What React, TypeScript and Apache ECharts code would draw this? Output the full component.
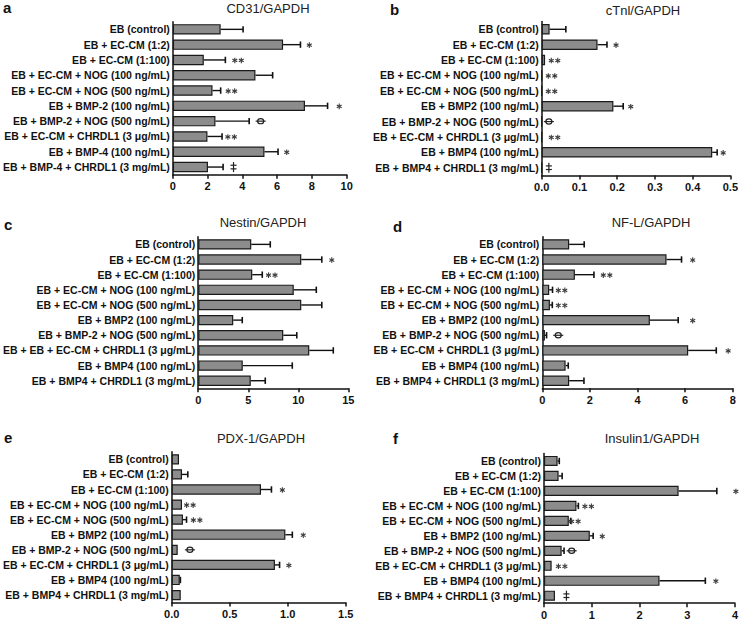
import React, { useEffect, useRef } from "react";
import * as echarts from "echarts";

// ---------- Categories ----------
const LABELS_A = [
  "EB (control)",
  "EB + EC-CM (1:2)",
  "EB + EC-CM (1:100)",
  "EB + EC-CM + NOG (100 ng/mL)",
  "EB + EC-CM + NOG (500 ng/mL)",
  "EB + BMP-2 (100 ng/mL)",
  "EB + BMP-2 + NOG (500 ng/mL)",
  "EB + EC-CM + CHRDL1 (3 μg/mL)",
  "EB + BMP-4 (100 ng/mL)",
  "EB + BMP-4 + CHRDL1 (3 mg/mL)",
];
const LABELS_STD = [
  "EB (control)",
  "EB + EC-CM (1:2)",
  "EB + EC-CM (1:100)",
  "EB + EC-CM + NOG (100 ng/mL)",
  "EB + EC-CM + NOG (500 ng/mL)",
  "EB + BMP2 (100 ng/mL)",
  "EB + BMP-2 + NOG (500 ng/mL)",
  "EB + EC-CM + CHRDL1 (3 μg/mL)",
  "EB + BMP4 (100 ng/mL)",
  "EB + BMP4 + CHRDL1 (3 mg/mL)",
];
const LABELS_C = [
  "EB (control)",
  "EB + EC-CM (1:2)",
  "EB + EC-CM (1:100)",
  "EB + EC-CM + NOG (100 ng/mL)",
  "EB + EC-CM + NOG (500 ng/mL)",
  "EB + BMP2 (100 ng/mL)",
  "EB + BMP-2 + NOG (500 ng/mL)",
  "EB + EB + EC-CM + CHRDL1 (3 μg/mL)",
  "EB + BMP4 (100 ng/mL)",
  "EB + BMP4 + CHRDL1 (3 mg/mL)",
];

// ---------- Values (mean, upper error end, significance marks) ----------
const CD31_MEAN = [2.75, 6.34, 1.78, 4.75, 2.28, 7.6, 2.45, 1.99, 5.27, 2.02];
const CD31_ERR = [4.04, 7.34, 3.02, 5.74, 2.75, 8.9, 4.39, 2.83, 6.05, 2.89];
const CD31_MARKS = ["", "*", "**", "", "**", "*", "θ", "**", "*", "‡"];
const CD31_MARK_X = [0, 7.85, 3.75, 0, 3.37, 9.57, 5.05, 3.35, 6.55, 3.49];

const CTNI_MEAN = [0.021, 0.148, 0.009, 0, 0, 0.19, 0, 0, 0.452, 0];
const CTNI_ERR = [0.064, 0.173, 0.009, 0, 0, 0.216, 0, 0, 0.465, 0];
const CTNI_MARKS = ["", "*", "**", "**", "**", "*", "θ", "**", "*", "‡"];
const CTNI_MARK_X = [0, 0.197, 0.034, 0.026, 0.026, 0.236, 0.019, 0.034, 0.481, 0.019];

const NESTIN_MEAN = [5.3, 10.3, 5.4, 9.55, 10.3, 3.5, 8.5, 11.1, 4.45, 5.25];
const NESTIN_ERR = [7.2, 12.35, 6.4, 11.8, 12.35, 4.4, 9.85, 13.5, 9.4, 6.7];
const NESTIN_MARKS = ["", "*", "**", "", "", "", "", "", "", ""];
const NESTIN_MARK_X = [0, 13.35, 7.35, 0, 0, 0, 0, 0, 0, 0];

const NFL_MEAN = [1.13, 5.22, 1.37, 0.29, 0.32, 4.52, 0.11, 6.13, 0.98, 1.13];
const NFL_ERR = [1.76, 5.85, 2.17, 0.43, 0.42, 5.71, 0.18, 7.31, 1.09, 1.75];
const NFL_MARKS = ["", "*", "**", "**", "**", "*", "θ", "*", "", ""];
const NFL_MARK_X = [0, 6.32, 2.7, 0.81, 0.81, 6.32, 0.67, 7.81, 0, 0];

const PDX_MEAN = [0.063, 0.089, 0.77, 0.089, 0.097, 0.98, 0.052, 0.89, 0.07, 0.078];
const PDX_ERR = [0.063, 0.139, 0.86, 0.089, 0.128, 1.04, 0.052, 0.93, 0.075, 0.078];
const PDX_MARKS = ["", "", "*", "**", "**", "*", "θ", "*", "", ""];
const PDX_MARK_X = [0, 0, 0.954, 0.157, 0.215, 1.134, 0.157, 1.01, 0, 0];

const INS_MEAN = [0.285, 0.306, 2.82, 0.68, 0.52, 0.96, 0.37, 0.16, 2.42, 0.23];
const INS_ERR = [0.32, 0.38, 3.62, 0.72, 0.56, 1.03, 0.42, 0.16, 3.38, 0.23];
const INS_MARKS = ["", "", "*", "**", "**", "*", "θ", "**", "*", "‡"];
const INS_MARK_X = [0, 0, 4.02, 0.925, 0.647, 1.22, 0.58, 0.37, 3.6, 0.47];

// ---------- Axis settings ----------
const TITLES = ["CD31/GAPDH", "cTnl/GAPDH", "Nestin/GAPDH", "NF-L/GAPDH", "PDX-1/GAPDH", "Insulin1/GAPDH"];
const LETTERS = ["a", "b", "c", "d", "e", "f"];
const X_MAX = [10, 0.5, 15, 8, 1.5, 4];
const X_INTERVAL = [2, 0.1, 5, 2, 0.5, 1];
const X_DECIMALS = [0, 1, 0, 0, 1, 0];

const PANEL_DATA = [
  { labels: LABELS_A, mean: CD31_MEAN, err: CD31_ERR, marks: CD31_MARKS, markX: CD31_MARK_X },
  { labels: LABELS_STD, mean: CTNI_MEAN, err: CTNI_ERR, marks: CTNI_MARKS, markX: CTNI_MARK_X },
  { labels: LABELS_C, mean: NESTIN_MEAN, err: NESTIN_ERR, marks: NESTIN_MARKS, markX: NESTIN_MARK_X },
  { labels: LABELS_STD, mean: NFL_MEAN, err: NFL_ERR, marks: NFL_MARKS, markX: NFL_MARK_X },
  { labels: LABELS_STD, mean: PDX_MEAN, err: PDX_ERR, marks: PDX_MARKS, markX: PDX_MARK_X },
  { labels: LABELS_STD, mean: INS_MEAN, err: INS_ERR, marks: INS_MARKS, markX: INS_MARK_X },
];

// layout (pixels)
const GRIDS = [
  { left: 154.3, top: 21.7, width: 192.4, height: 153 },
  { left: 541.7, top: 21.6, width: 194, height: 153.8 },
  { left: 169.3, top: 236.8, width: 179, height: 151.5 },
  { left: 542.3, top: 236.8, width: 190.4, height: 151.5 },
  { left: 154.3, top: 451.8, width: 191.4, height: 150.8 },
  { left: 544, top: 453.5, width: 191.7, height: 149.7 },
];
const TITLE_POS = [
  [268, 8], [643, 10], [263, 222], [651, 222], [261, 438], [652, 438],
];
const LETTER_POS = [
  [3, 7], [390, 9], [4, 224], [393, 226], [4, 437], [393, 438],
];

const LABEL_FONT = "'Liberation Sans Narrow', 'Liberation Sans', Arial, sans-serif";
const TITLE_FONT = "'Liberation Sans', Arial, sans-serif";
const INK = "#222222";
const STAR_INK = "#3a3a3a";

// asterisk drawn as three crossing strokes
function asterisk(cx: number, cy: number): any[] {
  const r = 2.8;
  const out: any[] = [];
  [90, 30, 150].forEach((deg) => {
    const a = (deg * Math.PI) / 180;
    const dx = Math.cos(a) * r;
    const dy = Math.sin(a) * r;
    out.push({
      type: "line",
      shape: { x1: cx - dx, y1: cy - dy, x2: cx + dx, y2: cy + dy },
      style: { stroke: STAR_INK, lineWidth: 1.1 },
    });
  });
  return out;
}

function buildOption() {
  const grid: any[] = [];
  const xAxis: any[] = [];
  const yAxis: any[] = [];
  const series: any[] = [];
  const graphic: any[] = [];

  PANEL_DATA.forEach((p, k) => {
    grid.push({ ...GRIDS[k], containLabel: false });
    const dec = X_DECIMALS[k];
    xAxis.push({
      type: "value",
      gridIndex: k,
      min: 0,
      max: X_MAX[k],
      interval: X_INTERVAL[k],
      axisLine: { show: true, lineStyle: { color: "#111", width: 1.5 } },
      axisTick: { show: true, length: 4, lineStyle: { color: "#111", width: 1.5 } },
      splitLine: { show: false },
      axisLabel: {
        color: "#111",
        fontFamily: LABEL_FONT,
        fontWeight: "bold",
        fontSize: 11,
        margin: 6,
        formatter: (v: number) => v.toFixed(dec),
      },
    });
    yAxis.push({
      type: "category",
      gridIndex: k,
      inverse: true,
      data: p.labels,
      axisLine: { show: true, lineStyle: { color: "#111", width: 1.5 } },
      axisTick: { show: false },
      axisLabel: {
        color: "#111",
        fontFamily: LABEL_FONT,
        fontWeight: "bold",
        fontSize: 10.5,
        margin: 3,
      },
    });
    series.push({
      type: "bar",
      xAxisIndex: k,
      yAxisIndex: k,
      data: p.mean,
      barWidth: "68%",
      itemStyle: { color: "#8c8c8c", borderColor: "#1a1a1a", borderWidth: 1.2 },
      silent: true,
    });
    const errData = p.mean.map((m, i) => [m, p.err[i], i]);
    series.push({
      type: "custom",
      xAxisIndex: k,
      yAxisIndex: k,
      data: errData,
      encode: { x: [0, 1], y: 2 },
      clip: false,
      silent: true,
      renderItem: (params: any, api: any) => {
        const m = api.value(0);
        const hi = api.value(1);
        const i = api.value(2);
        if (!(hi > m)) return null;
        const p0 = api.coord([m, i]);
        const p1 = api.coord([hi, i]);
        return {
          type: "group",
          children: [
            { type: "line", shape: { x1: p0[0], y1: p0[1], x2: p1[0], y2: p1[1] }, style: { stroke: "#111", lineWidth: 1.4 } },
            { type: "line", shape: { x1: p1[0], y1: p1[1] - 3.2, x2: p1[0], y2: p1[1] + 3.2 }, style: { stroke: "#111", lineWidth: 1.6 } },
          ],
        };
      },
    });
    const markData: any[] = [];
    p.marks.forEach((mk, i) => {
      if (mk) markData.push([p.markX[i], i]);
    });
    series.push({
      type: "custom",
      xAxisIndex: k,
      yAxisIndex: k,
      data: markData,
      encode: { x: 0, y: 1 },
      clip: false,
      silent: true,
      renderItem: (params: any, api: any) => {
        const i = api.value(1);
        const mk = p.marks[i];
        const c = api.coord([api.value(0), i]);
        const x = c[0];
        const y = c[1];
        if (mk === "θ") {
          return {
            type: "group",
            children: [
              { type: "ellipse", shape: { cx: x, cy: y, rx: 3, ry: 2.6 }, style: { fill: "none", stroke: INK, lineWidth: 1.2 } },
              { type: "line", shape: { x1: x - 5, y1: y, x2: x + 5, y2: y }, style: { stroke: INK, lineWidth: 1.2 } },
            ],
          };
        }
        if (mk === "‡") {
          return {
            type: "group",
            children: [
              { type: "line", shape: { x1: x, y1: y - 5, x2: x, y2: y + 5 }, style: { stroke: INK, lineWidth: 1.2 } },
              { type: "line", shape: { x1: x - 3, y1: y - 1.8, x2: x + 3, y2: y - 1.8 }, style: { stroke: INK, lineWidth: 1.2 } },
              { type: "line", shape: { x1: x - 3, y1: y + 1.8, x2: x + 3, y2: y + 1.8 }, style: { stroke: INK, lineWidth: 1.2 } },
            ],
          };
        }
        const n = mk.length;
        const children: any[] = [];
        for (let s = 0; s < n; s++) {
          const sx = x + (s - (n - 1) / 2) * 6.5;
          children.push(...asterisk(sx, y + 0.5));
        }
        return { type: "group", children };
      },
    });

    graphic.push({
      type: "text",
      x: TITLE_POS[k][0],
      y: TITLE_POS[k][1],
      style: {
        text: TITLES[k],
        fill: "#222",
        fontSize: 13,
        fontFamily: TITLE_FONT,
        align: "center",
        verticalAlign: "middle",
      },
    });
    graphic.push({
      type: "text",
      x: LETTER_POS[k][0],
      y: LETTER_POS[k][1],
      style: {
        text: LETTERS[k],
        fill: "#111",
        fontSize: 15,
        fontWeight: "bold",
        fontFamily: TITLE_FONT,
        align: "left",
        verticalAlign: "middle",
      },
    });
  });

  return {
    animation: false,
    backgroundColor: "#ffffff",
    grid,
    xAxis,
    yAxis,
    series,
    graphic,
  };
}

export default function App() {
  const ref = useRef<HTMLDivElement>(null);
  useEffect(() => {
    if (!ref.current) return;
    const chart = echarts.init(ref.current, undefined, { renderer: "svg" });
    chart.setOption(buildOption() as any);
    return () => chart.dispose();
  }, []);
  return (
    <div
      ref={ref}
      style={{ position: "absolute", left: 0, top: 0, width: 741, height: 621, background: "#fff" }}
    />
  );
}
